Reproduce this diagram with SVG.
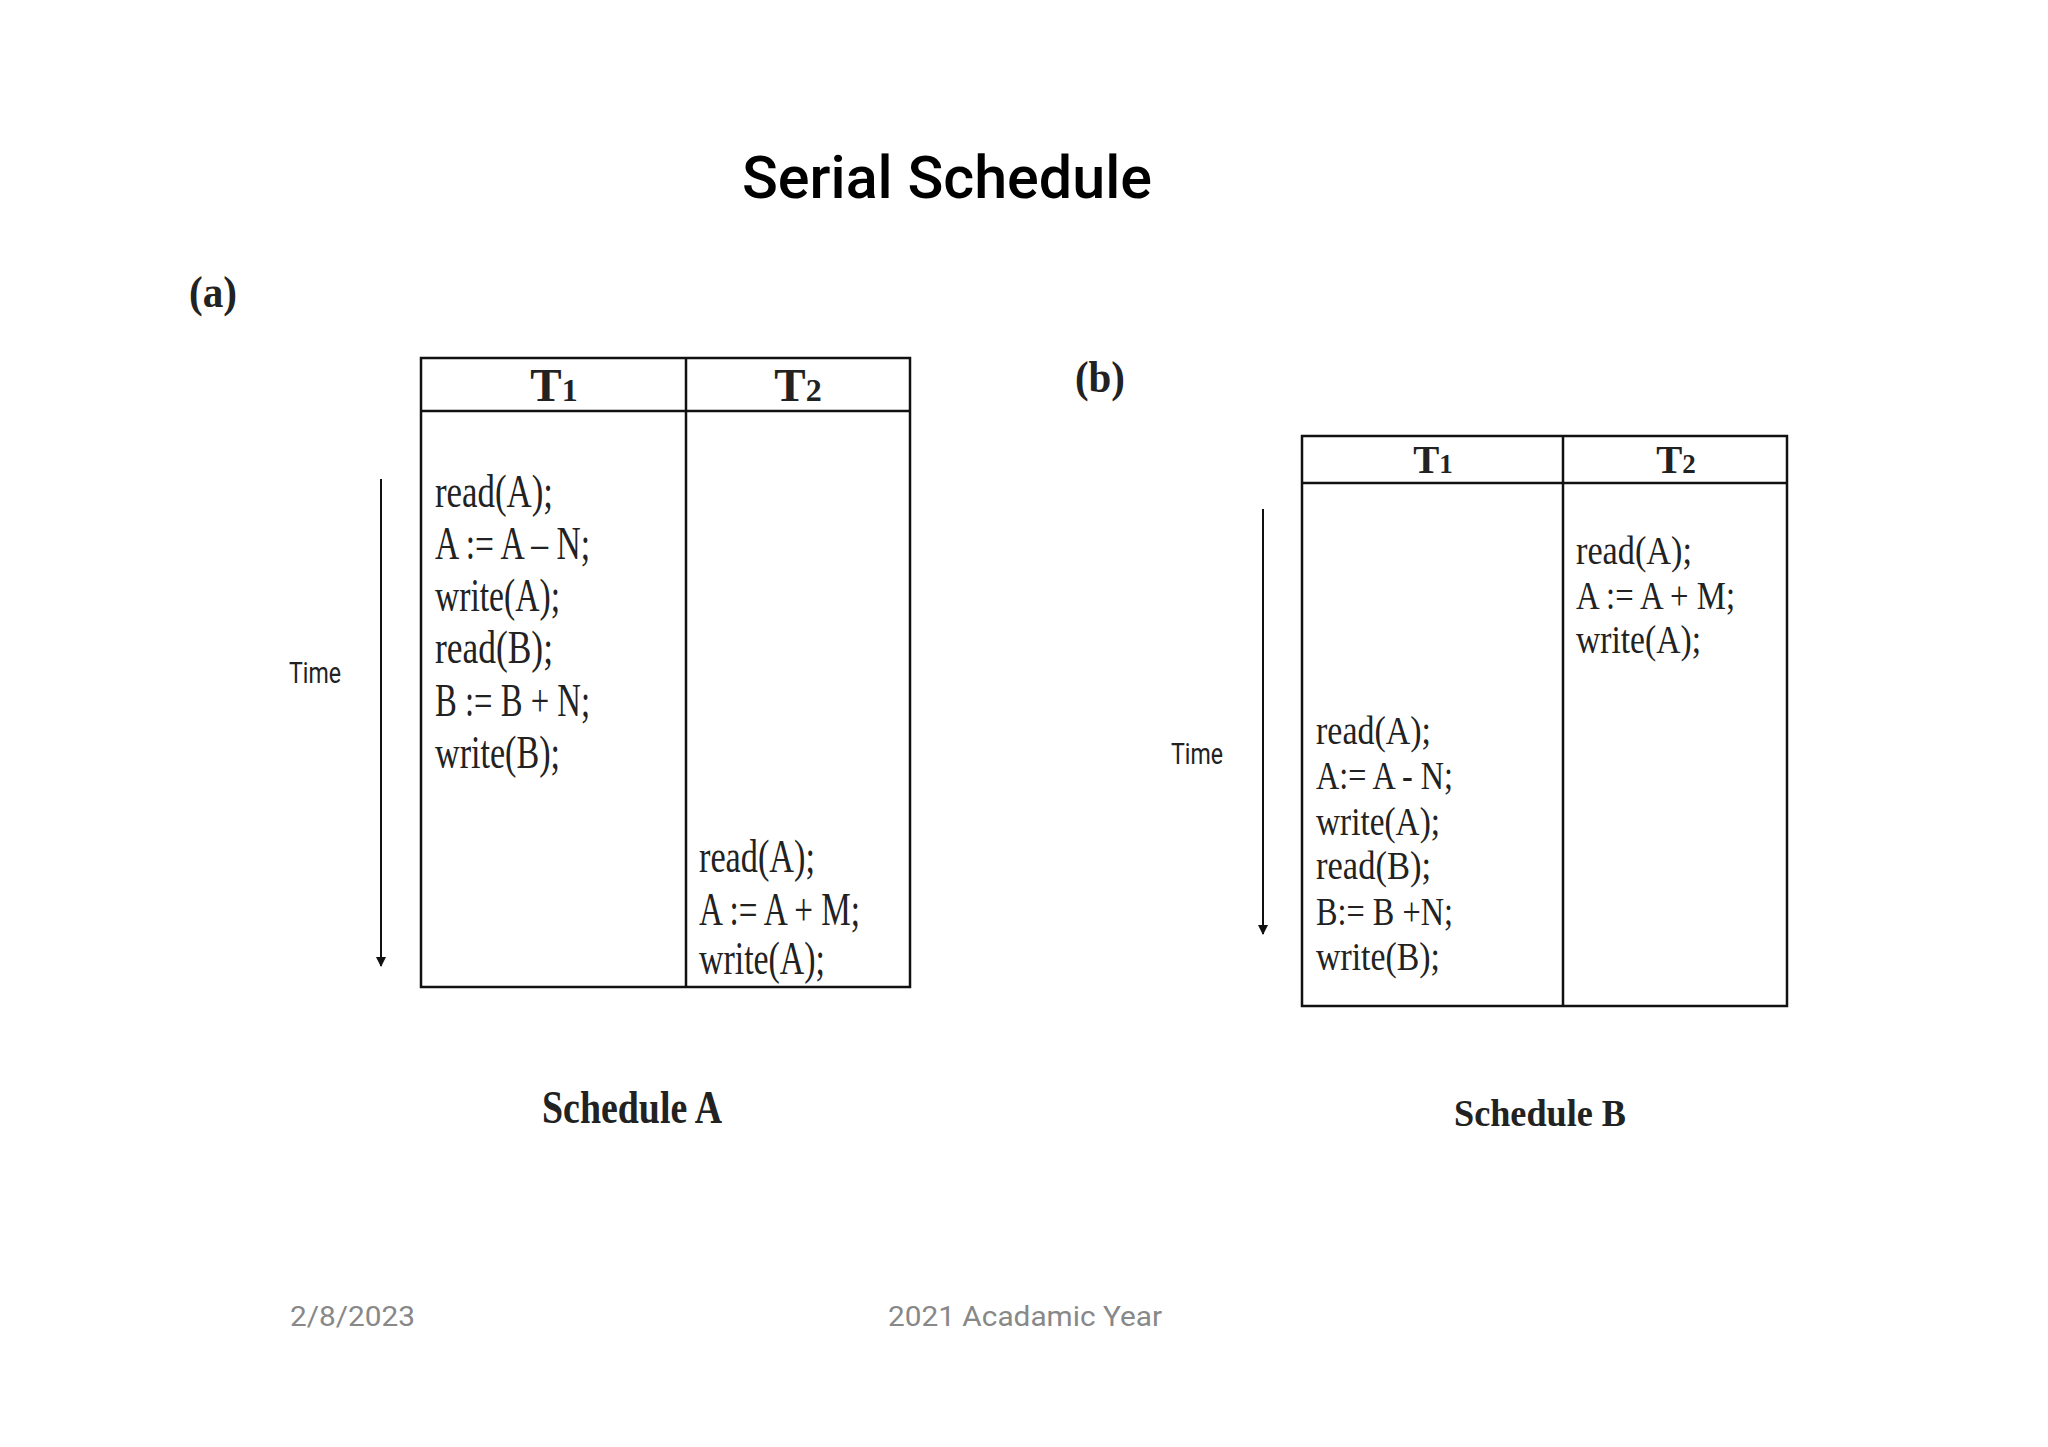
<svg xmlns="http://www.w3.org/2000/svg" width="2048" height="1447" viewBox="0 0 2048 1447">
<defs>
<style>
.s{font-family:"Liberation Serif",serif;fill:#222}
.c{font-size:47px}
.cb{font-size:39px}
.h{font-weight:bold;text-anchor:middle}
.t{font-family:Roboto,"Liberation Sans",sans-serif;font-size:29px;fill:#222}
.f{font-family:Roboto,"Liberation Sans",sans-serif;font-size:28px;fill:#888}
.box{fill:none;stroke:#111;stroke-width:2.5}
</style>
<marker id="ar" viewBox="0 0 10 10" refX="9" refY="5" markerWidth="10" markerHeight="10" markerUnits="userSpaceOnUse" orient="auto"><path d="M0,0L10,5L0,10z" fill="#111"/></marker>
</defs>
<rect width="2048" height="1447" fill="#fff"/>
<text x="947" y="198" text-anchor="middle" font-family="Roboto,'Liberation Sans',sans-serif" font-size="60" font-weight="500" textLength="410" lengthAdjust="spacingAndGlyphs">Serial Schedule</text>
<g id="scheduleA">
<text class="s" x="189" y="307" font-size="44" font-weight="bold" textLength="48" lengthAdjust="spacingAndGlyphs">(a)</text>
<rect class="box" x="421" y="358" width="489" height="629"/>
<line class="box" x1="421" y1="411" x2="910" y2="411"/>
<line class="box" x1="686" y1="358" x2="686" y2="987"/>
<text class="s c h" x="554" y="401">T<tspan font-size="32">1</tspan></text>
<text class="s c h" x="798" y="401">T<tspan font-size="32">2</tspan></text>
<text class="s c" x="435" y="507" textLength="118" lengthAdjust="spacingAndGlyphs">read(A);</text>
<text class="s c" x="435" y="559" textLength="155" lengthAdjust="spacingAndGlyphs">A := A – N;</text>
<text class="s c" x="435" y="611" textLength="125" lengthAdjust="spacingAndGlyphs">write(A);</text>
<text class="s c" x="435" y="663" textLength="118" lengthAdjust="spacingAndGlyphs">read(B);</text>
<text class="s c" x="435" y="716" textLength="155" lengthAdjust="spacingAndGlyphs">B := B + N;</text>
<text class="s c" x="435" y="768" textLength="125" lengthAdjust="spacingAndGlyphs">write(B);</text>
<text class="s c" x="699" y="872" textLength="116" lengthAdjust="spacingAndGlyphs">read(A);</text>
<text class="s c" x="699" y="925" textLength="161" lengthAdjust="spacingAndGlyphs">A := A + M;</text>
<text class="s c" x="699" y="974" textLength="126" lengthAdjust="spacingAndGlyphs">write(A);</text>
<text class="t" x="289" y="683" textLength="52" lengthAdjust="spacingAndGlyphs">Time</text>
<text class="s" x="632" y="1123" font-size="47" font-weight="bold" text-anchor="middle" textLength="180" lengthAdjust="spacingAndGlyphs">Schedule A</text>
</g>
<g id="scheduleB">
<text class="s" x="1075" y="392" font-size="44" font-weight="bold" textLength="50" lengthAdjust="spacingAndGlyphs">(b)</text>
<rect class="box" x="1302" y="436" width="485" height="570"/>
<line class="box" x1="1302" y1="483" x2="1787" y2="483"/>
<line class="box" x1="1563" y1="436" x2="1563" y2="1006"/>
<text class="s cb h" x="1433" y="473">T<tspan font-size="27">1</tspan></text>
<text class="s cb h" x="1676" y="473">T<tspan font-size="27">2</tspan></text>
<text class="s cb" x="1576" y="564" textLength="116" lengthAdjust="spacingAndGlyphs">read(A);</text>
<text class="s cb" x="1576" y="609" textLength="159" lengthAdjust="spacingAndGlyphs">A := A + M;</text>
<text class="s cb" x="1576" y="653" textLength="125" lengthAdjust="spacingAndGlyphs">write(A);</text>
<text class="s cb" x="1316" y="744" textLength="115" lengthAdjust="spacingAndGlyphs">read(A);</text>
<text class="s cb" x="1316" y="789" textLength="137" lengthAdjust="spacingAndGlyphs">A:= A - N;</text>
<text class="s cb" x="1316" y="835" textLength="124" lengthAdjust="spacingAndGlyphs">write(A);</text>
<text class="s cb" x="1316" y="879" textLength="115" lengthAdjust="spacingAndGlyphs">read(B);</text>
<text class="s cb" x="1316" y="925" textLength="137" lengthAdjust="spacingAndGlyphs">B:= B +N;</text>
<text class="s cb" x="1316" y="970" textLength="124" lengthAdjust="spacingAndGlyphs">write(B);</text>
<text class="t" x="1171" y="764" textLength="52" lengthAdjust="spacingAndGlyphs">Time</text>
<text class="s" x="1540" y="1126" font-size="38" font-weight="bold" text-anchor="middle" textLength="172" lengthAdjust="spacingAndGlyphs">Schedule B</text>
</g>
<g id="connectors">
<line x1="381" y1="479" x2="381" y2="966" stroke="#111" stroke-width="2" marker-end="url(#ar)"/>
<line x1="1263" y1="509" x2="1263" y2="934" stroke="#111" stroke-width="2" marker-end="url(#ar)"/>
</g>
<text class="f" x="290" y="1326" textLength="125" lengthAdjust="spacingAndGlyphs">2/8/2023</text>
<text class="f" x="888" y="1326" textLength="274" lengthAdjust="spacingAndGlyphs">2021 Acadamic Year</text>
</svg>
